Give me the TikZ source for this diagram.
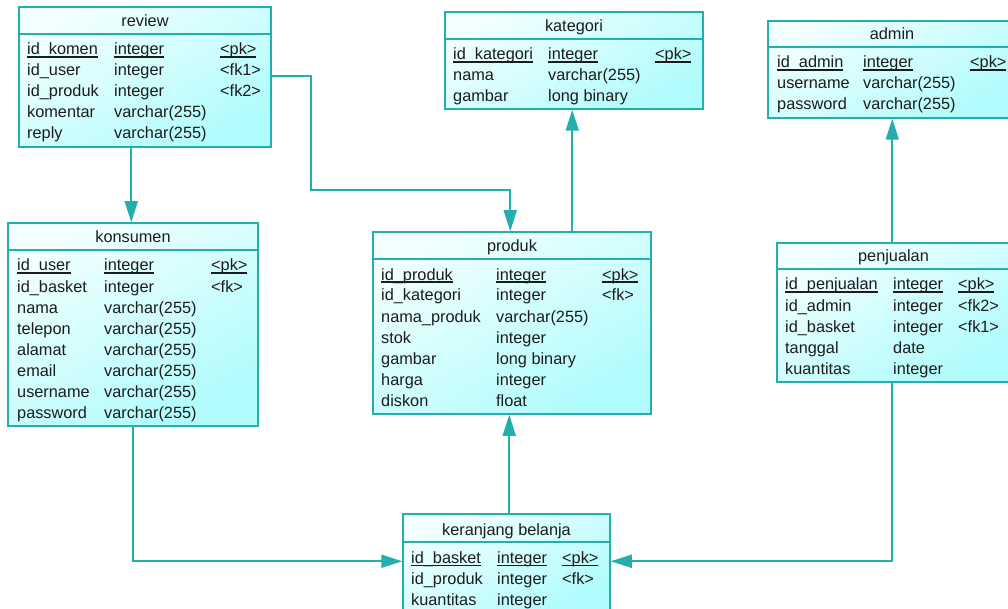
\documentclass[tikz,border=0pt]{standalone}
\usepackage{fontspec}
\setmainfont{Liberation Sans}
\usetikzlibrary{arrows.meta}

\definecolor{erteal}{RGB}{36,174,174}
\definecolor{erlight}{RGB}{242,255,255}
\definecolor{erdeep}{RGB}{176,252,252}
\definecolor{ertext}{RGB}{28,28,28}

% underlined key field
\newcommand{\ulx}[1]{\setbox0\hbox{#1}\rlap{\rule[-2.6pt]{\wd0}{1.1pt}}\box0}

% table frame: name, left, top, right, bottom, header line y, title
\newcommand{\ertable}[7]{%
  \node[tablebox, minimum width={#4-#2}, minimum height={#5-#3}] (#1) at ({(#2+#4)/2},{(#3+#5)/2}) {};
  \draw[erline] (#2,#6) -- (#4,#6);
  \node[titletext] (#1-title) at ({(#2+#4)/2},{#6-7}) {#7};
}
% column positions of the current table
\newcommand{\ercols}[3]{\def\cxa{#1}\def\cxb{#2}\def\cxc{#3}}
% one row: id, baseline y, name, type, key
\newcommand{\errow}[5]{%
  \node[cell] (#1-a) at (\cxa,#2) {#3};
  \node[cell] (#1-b) at (\cxb,#2) {#4};
  \node[cell] (#1-c) at (\cxc,#2) {#5};
}

\tikzset{
  tablebox/.style={rectangle, draw=erteal, line width=1.5pt, top color=erlight,
    bottom color=erdeep, shading angle=30, inner sep=0pt},
  erline/.style={draw=erteal, line width=1.5pt},
  titletext/.style={anchor=base, inner sep=0pt, text=ertext,
    font=\fontsize{16.3pt}{20pt}\selectfont},
  cell/.style={anchor=base west, inner sep=0pt, text=ertext,
    font=\fontsize{16.3pt}{20pt}\selectfont},
  fk/.style={draw=erteal, line width=1.8pt, -{Triangle[length=21pt,width=13pt]}},
}

\begin{document}
\begin{tikzpicture}[x=1pt,y=-1pt]
\clip (0,0) rectangle (1008,609);
\fill[white] (0,0) rectangle (1008,609);

% review
\ertable{review}{19}{7}{271}{147}{34}{review}
\ercols{27}{114}{220}
\errow{review-r1}{55}{\ulx{id\_komen}}{\ulx{integer}}{\ulx{<pk>}}
\errow{review-r2}{76}{id\_user}{integer}{<fk1>}
\errow{review-r3}{97}{id\_produk}{integer}{<fk2>}
\errow{review-r4}{118}{komentar}{varchar(255)}{}
\errow{review-r5}{139}{reply}{varchar(255)}{}

% kategori
\ertable{kategori}{445}{12}{703}{109}{39}{kategori}
\ercols{453}{548}{655}
\errow{kategori-r1}{60}{\ulx{id\_kategori}}{\ulx{integer}}{\ulx{<pk>}}
\errow{kategori-r2}{81}{nama}{varchar(255)}{}
\errow{kategori-r3}{102}{gambar}{long binary}{}

% admin
\ertable{admin}{768}{21}{1016}{118}{47}{admin}
\ercols{777}{863}{970}
\errow{admin-r1}{68}{\ulx{id\_admin}}{\ulx{integer}}{\ulx{<pk>}}
\errow{admin-r2}{89}{username}{varchar(255)}{}
\errow{admin-r3}{110}{password}{varchar(255)}{}

% konsumen
\ertable{konsumen}{8}{223}{258}{426}{250}{konsumen}
\ercols{17}{104}{211}
\errow{konsumen-r1}{271}{\ulx{id\_user}}{\ulx{integer}}{\ulx{<pk>}}
\errow{konsumen-r2}{292}{id\_basket}{integer}{<fk>}
\errow{konsumen-r3}{313}{nama}{varchar(255)}{}
\errow{konsumen-r4}{334}{telepon}{varchar(255)}{}
\errow{konsumen-r5}{355}{alamat}{varchar(255)}{}
\errow{konsumen-r6}{376}{email}{varchar(255)}{}
\errow{konsumen-r7}{397}{username}{varchar(255)}{}
\errow{konsumen-r8}{418}{password}{varchar(255)}{}

% produk
\ertable{produk}{373}{232}{651}{414}{259}{produk}
\ercols{381}{496}{602}
\errow{produk-r1}{280}{\ulx{id\_produk}}{\ulx{integer}}{\ulx{<pk>}}
\errow{produk-r2}{301}{id\_kategori}{integer}{<fk>}
\errow{produk-r3}{322}{nama\_produk}{varchar(255)}{}
\errow{produk-r4}{343}{stok}{integer}{}
\errow{produk-r5}{364}{gambar}{long binary}{}
\errow{produk-r6}{385}{harga}{integer}{}
\errow{produk-r7}{406}{diskon}{float}{}

% penjualan
\ertable{penjualan}{777}{243}{1010}{382}{269}{penjualan}
\ercols{785}{893}{958}
\errow{penjualan-r1}{290}{\ulx{id\_penjualan}}{\ulx{integer}}{\ulx{<pk>}}
\errow{penjualan-r2}{311}{id\_admin}{integer}{<fk2>}
\errow{penjualan-r3}{332}{id\_basket}{integer}{<fk1>}
\errow{penjualan-r4}{353}{tanggal}{date}{}
\errow{penjualan-r5}{374}{kuantitas}{integer}{}

% keranjang belanja
\ertable{keranjang}{403}{514}{610}{613}{542}{keranjang belanja}
\ercols{411}{497}{562}
\errow{keranjang-r1}{563}{\ulx{id\_basket}}{\ulx{integer}}{\ulx{<pk>}}
\errow{keranjang-r2}{584}{id\_produk}{integer}{<fk>}
\errow{keranjang-r3}{605}{kuantitas}{integer}{}

% references
\coordinate (c1) at ([xshift=113pt]review.south west);
\draw[fk] (c1) -- (c1 |- konsumen.north);

\coordinate (c2) at ([yshift=-70pt]review.north east);
\coordinate (c2e) at ([xshift=138pt]produk.north west);
\draw[fk] (c2) -| (311,190) -| (c2e);

\coordinate (c3) at ([xshift=200pt]produk.north west);
\draw[fk] (c3) -- (c3 |- kategori.south);

\coordinate (c4) at ([xshift=116pt]penjualan.north west);
\draw[fk] (c4) -- (c4 |- admin.south);

\coordinate (c5) at ([xshift=107pt]keranjang.north west);
\draw[fk] (c5) -- (c5 |- produk.south);

\coordinate (c6) at ([xshift=126pt]konsumen.south west);
\draw[fk] (c6) |- ([yshift=-48pt]keranjang.north west);

\coordinate (c7) at ([xshift=116pt]penjualan.south west);
\draw[fk] (c7) |- ([yshift=-48pt]keranjang.north east);
\end{tikzpicture}
\end{document}
